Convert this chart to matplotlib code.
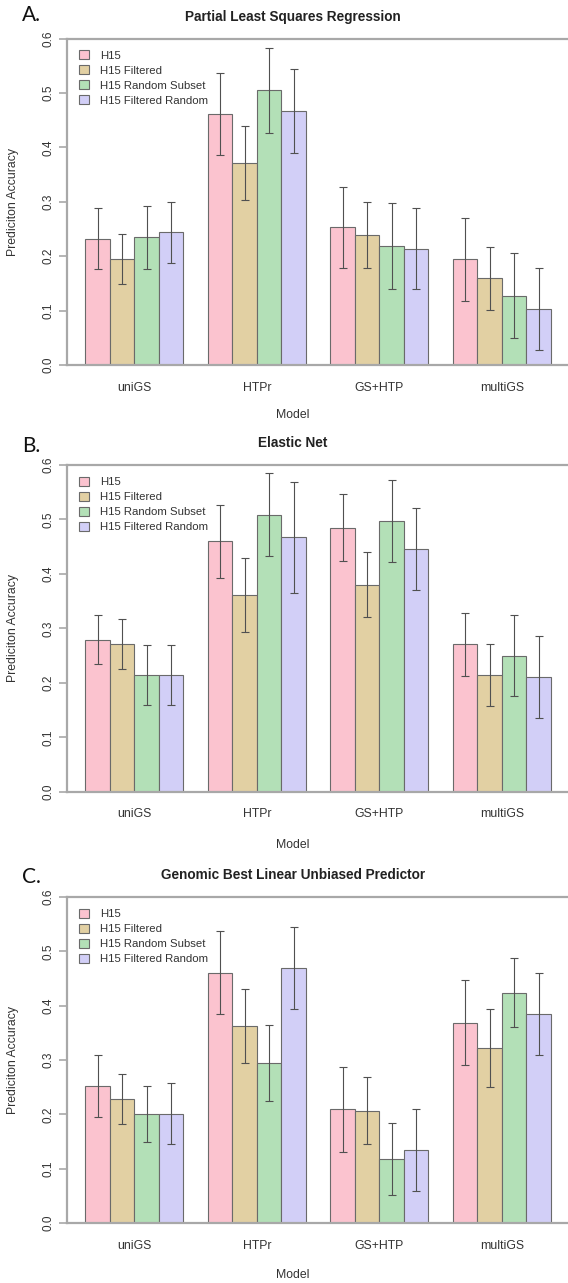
import numpy as np
import matplotlib
matplotlib.use("Agg")
import matplotlib.pyplot as plt

plt.rcParams['font.family'] = ['Liberation Sans', 'DejaVu Sans']

models = ["uniGS", "HTPr", "GS+HTP", "multiGS"]
series = ["H15", "H15 Filtered", "H15 Random Subset", "H15 Filtered Random"]
colors = ["#FBC3CF", "#E2D0A3", "#B3E0B7", "#D2CFF7"]

# rows = series, cols = models
pls_acc = [[0.232, 0.461, 0.253, 0.194],
           [0.195, 0.371, 0.239, 0.159],
           [0.235, 0.505, 0.218, 0.127],
           [0.244, 0.467, 0.214, 0.103]]
pls_err = [[0.056, 0.075, 0.075, 0.076],
           [0.046, 0.068, 0.060, 0.058],
           [0.058, 0.078, 0.079, 0.078],
           [0.056, 0.077, 0.074, 0.075]]

enet_acc = [[0.279, 0.460, 0.485, 0.271],
            [0.271, 0.362, 0.380, 0.214],
            [0.214, 0.509, 0.497, 0.250],
            [0.214, 0.467, 0.446, 0.211]]
enet_err = [[0.045, 0.067, 0.062, 0.058],
            [0.046, 0.068, 0.060, 0.057],
            [0.055, 0.076, 0.075, 0.074],
            [0.055, 0.102, 0.075, 0.075]]

gblup_acc = [[0.252, 0.461, 0.209, 0.369],
             [0.228, 0.362, 0.207, 0.322],
             [0.201, 0.295, 0.118, 0.424],
             [0.201, 0.469, 0.134, 0.385]]
gblup_err = [[0.057, 0.076, 0.078, 0.078],
             [0.046, 0.068, 0.061, 0.072],
             [0.051, 0.070, 0.066, 0.064],
             [0.056, 0.076, 0.076, 0.076]]

panels = [
    ("A.", "Partial Least Squares Regression", pls_acc, pls_err),
    ("B.", "Elastic Net", enet_acc, enet_err),
    ("C.", "Genomic Best Linear Unbiased Predictor", gblup_acc, gblup_err),
]

W, H = 568, 1283
fig = plt.figure(figsize=(W / 100, H / 100), dpi=100)

# pixel layout of each panel: (y of 0.0, y of 0.6, title y, xlabel y, letter y)
layout = [(365, 38.5, 17, 415, 15),
          (791.7, 465, 443, 845, 446),
          (1223, 897, 875, 1275, 877)]

ax_left = 66.7
ax_right = 569.5
text_col = "#333333"
axis_col = "#a8a8a8"

for (letter, title, acc, err), (y0, y6, ty, xy, ly) in zip(panels, layout):
    ax = fig.add_axes([ax_left / W, (H - y0) / H,
                       (ax_right - ax_left) / W, (y0 - y6) / H])
    acc = np.array(acc)
    err = np.array(err)
    for k in range(len(series)):
        xs = 1.5 + 5 * np.arange(len(models)) + k
        ax.bar(xs, acc[k], width=1.0, color=colors[k], edgecolor="#6a6a6a",
               linewidth=0.8, label=series[k], zorder=2)
        ax.errorbar(xs, acc[k], yerr=err[k], fmt="none", ecolor="#505050",
                    elinewidth=0.8, capsize=3, capthick=0.8, zorder=3)
    ax.set_xlim(0.24, 20.76)
    ax.set_ylim(0, 0.6)
    ax.set_xticks(3 + 5 * np.arange(len(models)))
    ax.set_xticklabels(models, fontsize=8.8, color=text_col)
    ax.tick_params(axis="x", length=0, pad=12)
    ax.set_yticks(np.arange(0, 0.61, 0.1))
    ax.set_yticklabels(["%.1f" % v for v in np.arange(0, 0.61, 0.1)],
                       fontsize=8.5, color=text_col, rotation=90, va="center")
    ax.tick_params(axis="y", length=6, width=1.2, color=axis_col, pad=3)
    for s in ax.spines.values():
        s.set_color(axis_col)
        s.set_linewidth(1.6)
    ax.legend(loc="upper left", bbox_to_anchor=(0.016, 0.978), frameon=False,
              fontsize=8.2, handlelength=0.85, handleheight=0.85,
              handletextpad=0.95, labelspacing=0.4, borderaxespad=0,
              labelcolor=text_col)
    for h in ax.get_legend().legend_handles:
        h.set_edgecolor("#6a6a6a")
        h.set_linewidth(0.8)

    fig.text(293 / W, 1 - ty / H, title, ha="center", va="center",
             fontsize=9.8, fontweight="bold", color="#222222")
    fig.text(293 / W, 1 - xy / H, "Model", ha="center", va="center",
             fontsize=8.8, color=text_col)
    fig.text(13.5 / W, 1 - (y0 + y6) / 2 / H, "Prediciton Accuracy",
             ha="center", va="center", rotation=90, fontsize=8.8, color=text_col)
    fig.text(22 / W, 1 - ly / H, letter, ha="left", va="center",
             fontsize=15, family=["Lato", "DejaVu Sans"], color="#111111")

fig.savefig("out.png", dpi=100)
